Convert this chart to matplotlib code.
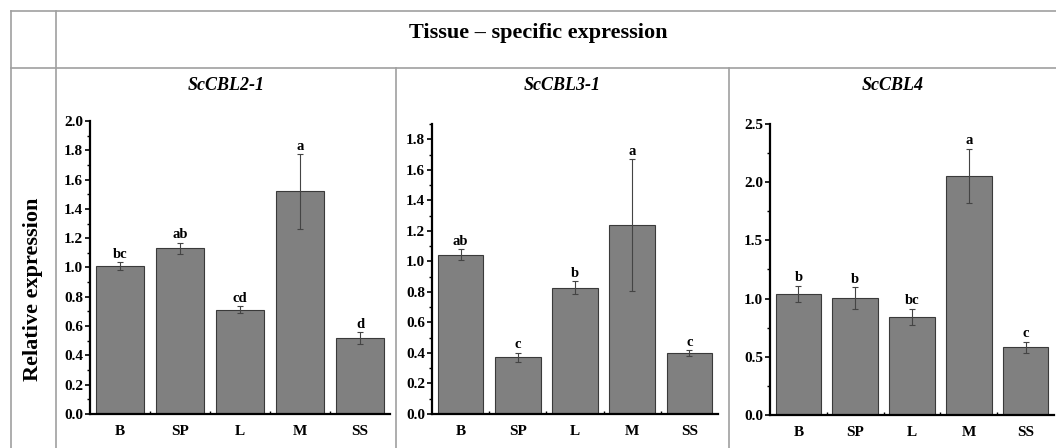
import numpy as np
import matplotlib.pyplot as plt
from matplotlib.lines import Line2D
from matplotlib.ticker import MultipleLocator, FixedLocator

plt.rcParams["font.family"] = ["Liberation Serif", "DejaVu Serif"]
plt.rcParams["font.weight"] = "bold"

W, H = 1056, 448

tissues = ["B", "SP", "L", "M", "SS"]

genes = ["ScCBL2-1", "ScCBL3-1", "ScCBL4"]

cbl21_mean = [1.01, 1.13, 0.713, 1.52, 0.52]
cbl21_err = [0.027, 0.040, 0.023, 0.255, 0.040]
cbl21_sig = ["bc", "ab", "cd", "a", "d"]

cbl31_mean = [1.045, 0.371, 0.827, 1.239, 0.401]
cbl31_err = [0.036, 0.030, 0.043, 0.43, 0.018]
cbl31_sig = ["ab", "c", "b", "a", "c"]

cbl4_mean = [1.04, 1.005, 0.842, 2.053, 0.581]
cbl4_err = [0.07, 0.093, 0.07, 0.234, 0.048]
cbl4_sig = ["b", "b", "bc", "a", "c"]

means = [cbl21_mean, cbl31_mean, cbl4_mean]
errs = [cbl21_err, cbl31_err, cbl4_err]
sigs = [cbl21_sig, cbl31_sig, cbl4_sig]
ylims = [2.0, 1.9, 2.5]
ysteps = [0.2, 0.2, 0.5]

# axes boxes in pixels: left, right, top, bottom
boxes = [(90, 390, 121, 414), (432, 718, 124, 414), (770, 1054, 124, 415)]
# cell centres for the gene titles
cells = [(56, 396), (396, 729), (729, 1056)]

fig = plt.figure(figsize=(W / 100, H / 100), dpi=100)


def fx(px):
    return px / W


def fy(py):
    return 1 - py / H


# ---- table grid
grid_kw = dict(color="#a0a0a0", lw=1.2, transform=fig.transFigure)
fig.add_artist(Line2D([fx(11), 1], [fy(11), fy(11)], **grid_kw))
fig.add_artist(Line2D([fx(11), 1], [fy(68), fy(68)], **grid_kw))
fig.add_artist(Line2D([fx(11), fx(11)], [fy(11), 0], **grid_kw))
fig.add_artist(Line2D([fx(56), fx(56)], [fy(11), 0], **grid_kw))
fig.add_artist(Line2D([fx(396), fx(396)], [fy(68), 0], **grid_kw))
fig.add_artist(Line2D([fx(729), fx(729)], [fy(68), 0], **grid_kw))

fig.text(fx(538), fy(33), "Tissue \u2013 specific expression", ha="center",
         va="center", fontsize=16, fontweight="bold")
fig.text(fx(33), fy(289), "Relative expression", ha="center", va="center",
         rotation=90, fontsize=16, fontweight="bold")

x = np.arange(1, len(tissues) + 1)
for i in range(3):
    l, r, t, b = boxes[i]
    ax = fig.add_axes([fx(l), fy(b), fx(r) - fx(l), fy(t) - fy(b)])
    ax.bar(x, means[i], width=0.8, color="#808080", edgecolor="#3a3a3a",
           linewidth=0.8, zorder=2)
    ax.errorbar(x, means[i], yerr=errs[i], fmt="none", ecolor="#444444",
                elinewidth=0.8, capsize=2.2, capthick=0.8, zorder=3)
    for xi, m, e, s in zip(x, means[i], errs[i], sigs[i]):
        ax.annotate(s, (xi, m + e), xytext=(0, 1), textcoords="offset points",
                    ha="center", va="bottom", fontsize=10.5, fontweight="bold")
    ax.set_xlim(0.5, 5.5)
    ax.set_ylim(0, ylims[i])
    ax.set_xticks(x)
    ax.set_xticklabels(tissues, fontsize=11, fontweight="bold")
    ax.xaxis.set_minor_locator(FixedLocator([1.5, 2.5, 3.5, 4.5]))
    ax.tick_params(axis="x", which="major", length=0, pad=8)
    ax.tick_params(axis="x", which="minor", direction="in", length=2, width=1)
    ax.yaxis.set_major_locator(MultipleLocator(ysteps[i]))
    ax.yaxis.set_minor_locator(MultipleLocator(ysteps[i] / 2))
    ax.yaxis.set_major_formatter(plt.FormatStrFormatter("%.1f"))
    ax.tick_params(axis="y", which="major", direction="out", length=3.5,
                   width=1.2, labelsize=11, pad=1.5)
    ax.tick_params(axis="y", which="minor", direction="out", length=2, width=1)
    for lab in ax.get_yticklabels():
        lab.set_fontweight("bold")
    ax.spines["top"].set_visible(False)
    ax.spines["right"].set_visible(False)
    ax.spines["left"].set_linewidth(1.6)
    ax.spines["bottom"].set_linewidth(1.6)
    ax.patch.set_alpha(0)

    cl, cr = cells[i]
    fig.text(fx((cl + cr) / 2), fy(86), genes[i], ha="center", va="center",
             fontsize=13, fontweight="bold", fontstyle="italic")

fig.savefig("out.png", dpi=100)
